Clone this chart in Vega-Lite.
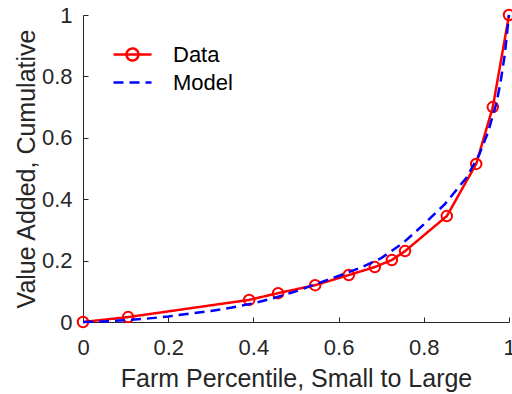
{
  "$schema": "https://vega.github.io/schema/vega-lite/v6.json",
  "width": 426,
  "height": 307,
  "autosize": "none",
  "padding": {"left": 83, "top": 15, "right": 3, "bottom": 72},
  "background": "white",
  "config": {
    "view": {"stroke": null},
    "font": "Liberation Sans",
    "axis": {
      "domainColor": "#262626",
      "tickColor": "#262626",
      "labelColor": "#262626",
      "titleColor": "#262626",
      "labelFontSize": 22,
      "titleFontSize": 25,
      "titleFontWeight": "normal",
      "labelFont": "Liberation Sans",
      "titleFont": "Liberation Sans",
      "labelFlush": false,
      "labelOverlap": false,
      "grid": false,
      "tickSize": -5,
      "domainWidth": 1,
      "tickWidth": 1
    }
  },
  "data": {
    "values": [
      {"series": "Data", "x": 0.0, "y": 0.0},
      {"series": "Data", "x": 0.106, "y": 0.016},
      {"series": "Data", "x": 0.39, "y": 0.072},
      {"series": "Data", "x": 0.458, "y": 0.094},
      {"series": "Data", "x": 0.545, "y": 0.12},
      {"series": "Data", "x": 0.624, "y": 0.153},
      {"series": "Data", "x": 0.685, "y": 0.179},
      {"series": "Data", "x": 0.725, "y": 0.202},
      {"series": "Data", "x": 0.756, "y": 0.231},
      {"series": "Data", "x": 0.854, "y": 0.345},
      {"series": "Data", "x": 0.923, "y": 0.515},
      {"series": "Data", "x": 0.962, "y": 0.70},
      {"series": "Data", "x": 1.0, "y": 1.0},
      {"series": "Model", "x": 0.0, "y": 0.0},
      {"series": "Model", "x": 0.05, "y": 0.002},
      {"series": "Model", "x": 0.1, "y": 0.006},
      {"series": "Model", "x": 0.15, "y": 0.011},
      {"series": "Model", "x": 0.2, "y": 0.018},
      {"series": "Model", "x": 0.25, "y": 0.027},
      {"series": "Model", "x": 0.3, "y": 0.036},
      {"series": "Model", "x": 0.35, "y": 0.047},
      {"series": "Model", "x": 0.4, "y": 0.061},
      {"series": "Model", "x": 0.45, "y": 0.079},
      {"series": "Model", "x": 0.5, "y": 0.100},
      {"series": "Model", "x": 0.55, "y": 0.125},
      {"series": "Model", "x": 0.6, "y": 0.150},
      {"series": "Model", "x": 0.65, "y": 0.176},
      {"series": "Model", "x": 0.7, "y": 0.208},
      {"series": "Model", "x": 0.75, "y": 0.256},
      {"series": "Model", "x": 0.8, "y": 0.318},
      {"series": "Model", "x": 0.85, "y": 0.385},
      {"series": "Model", "x": 0.9, "y": 0.470},
      {"series": "Model", "x": 0.93, "y": 0.545},
      {"series": "Model", "x": 0.95, "y": 0.615},
      {"series": "Model", "x": 0.97, "y": 0.71},
      {"series": "Model", "x": 0.98, "y": 0.78},
      {"series": "Model", "x": 0.99, "y": 0.87},
      {"series": "Model", "x": 1.0, "y": 1.0}
    ]
  },
  "encoding": {
    "x": {
      "field": "x",
      "type": "quantitative",
      "scale": {"domain": [0, 1], "nice": false},
      "axis": {"values": [0, 0.2, 0.4, 0.6, 0.8, 1], "format": ".1~f", "labelPadding": 20, "title": "Farm Percentile, Small to Large", "titlePadding": 8}
    },
    "y": {
      "field": "y",
      "type": "quantitative",
      "scale": {"domain": [0, 1], "nice": false},
      "axis": {"values": [0, 0.2, 0.4, 0.6, 0.8, 1], "format": ".1~f", "labelPadding": 16, "title": "Value Added, Cumulative", "titlePadding": 2}
    }
  },
  "layer": [
    {
      "transform": [{"filter": "datum.series === 'Data'"}],
      "mark": {"type": "line", "strokeWidth": 2.5, "clip": false},
      "encoding": {
        "color": {
          "field": "series", "type": "nominal",
          "scale": {"domain": ["Data", "Model"], "range": ["#ff0000", "#0000ff"]},
          "legend": {"orient": "none", "legendX": 38, "legendY": 28, "title": null, "labelFontSize": 22, "labelColor": "#000000", "symbolSize": 400, "symbolStrokeWidth": 2.5, "labelOffset": 29, "rowPadding": 5, "padding": 0,
            "encode": {"symbols": {"update": {"shape": {"signal": "datum.value === 'Data' ? 'M-1.9,0H1.9M0.6,0A0.6,0.6 0 1,1 -0.6,0A0.6,0.6 0 1,1 0.6,0Z' : 'M-1.9,0H1.9'"}, "fill": {"value": "transparent"}}}}}
        },
        "strokeDash": {
          "field": "series", "type": "nominal",
          "scale": {"domain": ["Data", "Model"], "range": [[1, 0], [10, 6]]},
          "legend": {"orient": "none", "legendX": 38, "legendY": 28, "title": null, "labelFontSize": 22, "labelColor": "#000000", "symbolSize": 400, "symbolStrokeWidth": 2.5, "labelOffset": 29, "rowPadding": 5, "padding": 0,
            "encode": {"symbols": {"update": {"shape": {"signal": "datum.value === 'Data' ? 'M-1.9,0H1.9M0.6,0A0.6,0.6 0 1,1 -0.6,0A0.6,0.6 0 1,1 0.6,0Z' : 'M-1.9,0H1.9'"}, "fill": {"value": "transparent"}}}}}
        }
      }
    },
    {
      "transform": [{"filter": "datum.series === 'Data'"}],
      "mark": {"type": "point", "shape": "circle", "filled": false, "size": 110, "strokeWidth": 2, "color": "#ff0000", "opacity": 1, "clip": false}
    },
    {
      "transform": [{"filter": "datum.series === 'Model'"}],
      "mark": {"type": "line", "strokeWidth": 2.5, "clip": false},
      "encoding": {
        "color": {"field": "series", "type": "nominal"},
        "strokeDash": {"field": "series", "type": "nominal"}
      }
    }
  ]
}
